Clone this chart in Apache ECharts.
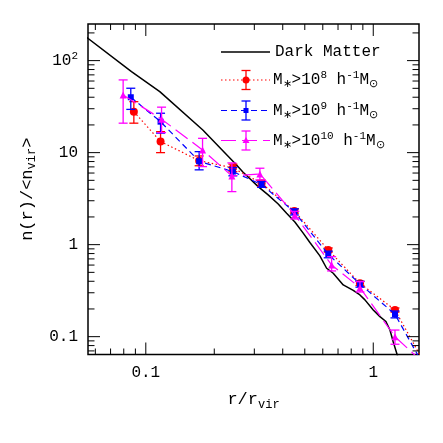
<!DOCTYPE html>
<html>
<head>
<meta charset="utf-8">
<script src="https://cdn.jsdelivr.net/npm/echarts@6/dist/echarts.min.js"></script>
<style>
html, body { margin: 0; padding: 0; background: #fff; }
#chart { width: 443px; height: 443px; }
</style>
</head>
<body>
<div id="chart"></div>
<script>
// axis range (log-log)
const xMin = 0.0557, xMax = 1.589;
const yMin = 0.064, yMax = 250;

// dark matter profile
const dmR = [0.050, 0.0865, 0.1152, 0.1781, 0.2506, 0.2672, 0.2818, 0.3119, 0.3451, 0.382, 0.4159, 0.4522, 0.492, 0.5265, 0.5826, 0.6237, 0.6668, 0.7379, 0.8166, 0.8739, 0.9193, 1.0, 1.07, 1.137, 1.184, 1.2246, 1.275, 1.297];
const dmN = [214, 75.9, 46.0, 17.6, 7.35, 6.17, 5.44, 4.27, 3.47, 2.77, 2.19, 1.765, 1.334, 1.056, 0.756, 0.554, 0.489, 0.365, 0.318, 0.284, 0.251, 0.195, 0.165, 0.146, 0.118, 0.0876, 0.0633, 0.0531];

// M* > 1e8
const m8R  = [0.0886, 0.1161, 0.1716, 0.2414, 0.3228, 0.450, 0.634, 0.874, 1.246, 1.75];
const m8N  = [27.9, 13.2, 8.18, 6.82, 4.65, 2.32, 0.876, 0.380, 0.195, 0.043];
const m8Lo = [20.9, 10.0, 7.2, 6.2, 4.3, 2.2, 0.83, 0.36, 0.185];
const m8Hi = [35.8, 16.9, 9.2, 7.5, 5.0, 2.45, 0.92, 0.40, 0.205];

// M* > 1e9
const m9R  = [0.0859, 0.1161, 0.1716, 0.2414, 0.3228, 0.450, 0.634, 0.874, 1.246, 1.75];
const m9N  = [40.0, 21.7, 8.06, 6.22, 4.5, 2.27, 0.786, 0.374, 0.175, 0.039];
const m9Lo = [29.5, 16.3, 6.5, 5.6, 4.2, 2.1, 0.72, 0.345, 0.16];
const m9Hi = [50.1, 26.8, 10.25, 6.9, 4.85, 2.45, 0.85, 0.40, 0.19];

// M* > 1e10
const m10R  = [0.0795, 0.1173, 0.1776, 0.239, 0.3174, 0.452, 0.656, 0.874, 1.246, 1.75];
const m10N  = [42.4, 23.1, 10.7, 5.58, 5.87, 2.10, 0.602, 0.341, 0.100, 0.046];
const m10Lo = [20.9, 16.5, 7.05, 3.77, 5.05, 1.9, 0.518, 0.306, 0.0827];
const m10Hi = [61.7, 31.2, 14.3, 7.73, 6.77, 2.3, 0.74, 0.396, 0.118];

// ticks
const xMajor = [0.1, 1];
const xMinor = [0.06, 0.07, 0.08, 0.09, 0.2, 0.3, 0.4, 0.5, 0.6, 0.7, 0.8, 0.9];
const yMajor = [0.1, 1, 10, 100];
const yMinor = [0.07, 0.08, 0.09, 0.2, 0.3, 0.4, 0.5, 0.6, 0.7, 0.8, 0.9,
  2, 3, 4, 5, 6, 7, 8, 9, 20, 30, 40, 50, 60, 70, 80, 90, 200];
const xLabelVals = [0.1, 1];
const xLabelTexts = ['0.1', '1'];
const yLabelVals = [0.1, 1, 10, 100];
const yLabelTexts = ['0.1', '1', '10', '10{sup|2}'];

const FONT = 'Liberation Mono';
const RED = '#ff0000', BLUE = '#0000ff', MAG = '#ff00ff';

const chart = echarts.init(document.getElementById('chart'));

function findLabel(v, vals, texts) {
  for (let i = 0; i < vals.length; i++) {
    if (Math.abs(Math.log10(v) - Math.log10(vals[i])) < 1e-6) return texts[i];
  }
  return '';
}

function tickSeries(values, len, isX) {
  return {
    type: 'custom', silent: true, clip: false, z: 10,
    data: values.map(v => isX ? [v, yMin] : [xMin, v]),
    encode: { x: 0, y: 1 },
    renderItem: (params, api) => {
      const st = { stroke: '#000', lineWidth: 1 };
      if (isX) {
        const v = api.value(0);
        const a = api.coord([v, yMin]), b = api.coord([v, yMax]);
        return { type: 'group', children: [
          { type: 'line', shape: { x1: a[0], y1: a[1], x2: a[0], y2: a[1] - len }, style: st },
          { type: 'line', shape: { x1: b[0], y1: b[1], x2: b[0], y2: b[1] + len }, style: st }
        ] };
      }
      const v = api.value(1);
      const a = api.coord([xMin, v]), b = api.coord([xMax, v]);
      return { type: 'group', children: [
        { type: 'line', shape: { x1: a[0], y1: a[1], x2: a[0] + len, y2: a[1] }, style: st },
        { type: 'line', shape: { x1: b[0], y1: b[1], x2: b[0] - len, y2: b[1] }, style: st }
      ] };
    }
  };
}

function errSeries(r, lo, hi, color, z) {
  return {
    type: 'custom', silent: true, z: z,
    data: lo.map((l, i) => [r[i], l, hi[i]]),
    encode: { x: 0, y: [1, 2] },
    renderItem: (params, api) => {
      const x = api.value(0);
      const t = api.coord([x, api.value(2)]);
      const b = api.coord([x, api.value(1)]);
      const w = 4.5;
      const st = { stroke: color, lineWidth: 1.3 };
      return { type: 'group', children: [
        { type: 'line', shape: { x1: t[0], y1: t[1], x2: b[0], y2: b[1] }, style: st },
        { type: 'line', shape: { x1: t[0] - w, y1: t[1], x2: t[0] + w, y2: t[1] }, style: st },
        { type: 'line', shape: { x1: b[0] - w, y1: b[1], x2: b[0] + w, y2: b[1] }, style: st }
      ] };
    }
  };
}

function pointSeries(name, r, n, color, symbol, size, dash, z) {
  return {
    type: 'line', name: name, z: z, clip: true,
    data: r.map((x, i) => i < r.length - 1 ? [x, n[i]] : { value: [x, n[i]], symbol: 'none' }),
    symbol: symbol, symbolSize: size,
    itemStyle: { color: color },
    lineStyle: { color: color, width: 1.2, type: dash },
    animation: false
  };
}

// legend (drawn as graphic)
const LX0 = 221, LX1 = 270, LM = 246, LT = 273;
const richLegend = {
  sub: { fontFamily: FONT, fontSize: 11, verticalAlign: 'bottom', lineHeight: 11 },
  sup: { fontFamily: FONT, fontSize: 11, verticalAlign: 'top', lineHeight: 11 }
};
function legendEntry(y, color, dash, marker, label) {
  const st = { stroke: color, lineWidth: 1.3 };
  const h = 9.5, w = 4.5;
  return [
    { type: 'line', shape: { x1: LX0, y1: y, x2: LX1, y2: y }, style: { stroke: color, lineWidth: 1.2, lineDash: dash } },
    { type: 'line', shape: { x1: LM, y1: y - h, x2: LM, y2: y + h }, style: st },
    { type: 'line', shape: { x1: LM - w, y1: y - h, x2: LM + w, y2: y - h }, style: st },
    { type: 'line', shape: { x1: LM - w, y1: y + h, x2: LM + w, y2: y + h }, style: st },
    marker,
    { type: 'text', x: LT, y: y, style: { text: label, fontFamily: FONT, fontSize: 16, fill: '#000', verticalAlign: 'middle', lineHeight: 20, rich: richLegend } }
  ];
}
const graphics = [
  { type: 'line', shape: { x1: LX0, y1: 52, x2: LX1, y2: 52 }, style: { stroke: '#000', lineWidth: 1.5 } },
  { type: 'text', x: 275, y: 52, style: { text: 'Dark Matter', fontFamily: FONT, fontSize: 16, fill: '#000', verticalAlign: 'middle' } }
].concat(
  legendEntry(80, RED, [1.5, 2.5], { type: 'circle', shape: { cx: LM, cy: 80, r: 3.5 }, style: { fill: RED } },
    'M{sub|∗}>10{sup|8} h{sup|-1}M{sub|⊙}'),
  legendEntry(110.5, BLUE, [6, 4], { type: 'rect', shape: { x: LM - 2.5, y: 108, width: 5, height: 5 }, style: { fill: BLUE } },
    'M{sub|∗}>10{sup|9} h{sup|-1}M{sub|⊙}'),
  legendEntry(140.5, MAG, [15, 6], { type: 'polygon', shape: { points: [[LM, 137], [LM - 3.5, 143], [LM + 3.5, 143]] }, style: { fill: MAG } },
    'M{sub|∗}>10{sup|10} h{sup|-1}M{sub|⊙}')
);

const option = {
  animation: false,
  backgroundColor: '#fff',
  grid: { left: 88, right: 24, top: 24, bottom: 88.5, show: true, borderColor: '#000', borderWidth: 1.5, backgroundColor: 'transparent' },
  xAxis: {
    type: 'log', logBase: 10, min: xMin, max: xMax, splitNumber: 2,
    axisLine: { show: false }, axisTick: { show: false }, splitLine: { show: false }, minorTick: { show: false },
    axisLabel: {
      margin: 10, color: '#000', fontFamily: FONT, fontSize: 16, showMinLabel: true, showMaxLabel: true,
      formatter: v => findLabel(v, xLabelVals, xLabelTexts)
    },
    name: 'r/r{sub|vir}', nameLocation: 'middle', nameGap: 34,
    nameTextStyle: {
      color: '#000', fontFamily: FONT, fontSize: 17, lineHeight: 22,
      rich: { sub: { fontFamily: FONT, fontSize: 12, verticalAlign: 'bottom', lineHeight: 12 } }
    }
  },
  yAxis: {
    type: 'log', logBase: 10, min: yMin, max: yMax, splitNumber: 4,
    axisLine: { show: false }, axisTick: { show: false }, splitLine: { show: false }, minorTick: { show: false },
    axisLabel: {
      margin: 10, color: '#000', fontFamily: FONT, fontSize: 16, lineHeight: 20,
      formatter: v => findLabel(v, yLabelVals, yLabelTexts),
      rich: { sup: { fontFamily: FONT, fontSize: 11, verticalAlign: 'top', lineHeight: 11 } }
    },
    name: 'n(r)/<n{sub|vir}>', nameLocation: 'middle', nameGap: 45,
    nameTextStyle: {
      color: '#000', fontFamily: FONT, fontSize: 17, lineHeight: 22,
      rich: { sub: { fontFamily: FONT, fontSize: 12, verticalAlign: 'bottom', lineHeight: 12 } }
    }
  },
  graphic: graphics,
  series: [
    {
      type: 'line', name: 'Dark Matter', z: 2, clip: true, symbol: 'none',
      data: dmR.map((x, i) => [x, dmN[i]]),
      lineStyle: { color: '#000', width: 1.5 }
    },
    errSeries(m8R, m8Lo, m8Hi, RED, 3),
    pointSeries('M8', m8R, m8N, RED, 'circle', 8, [1.5, 2.5], 3),
    errSeries(m9R, m9Lo, m9Hi, BLUE, 4),
    pointSeries('M9', m9R, m9N, BLUE, 'rect', 6, [6, 4], 4),
    errSeries(m10R, m10Lo, m10Hi, MAG, 5),
    pointSeries('M10', m10R, m10N, MAG, 'triangle', 7, [15, 6], 5),
    tickSeries(xMajor, 12, true),
    tickSeries(xMinor, 6, true),
    tickSeries(yMajor, 12, false),
    tickSeries(yMinor, 6.5, false)
  ]
};
chart.setOption(option);
</script>
</body>
</html>
